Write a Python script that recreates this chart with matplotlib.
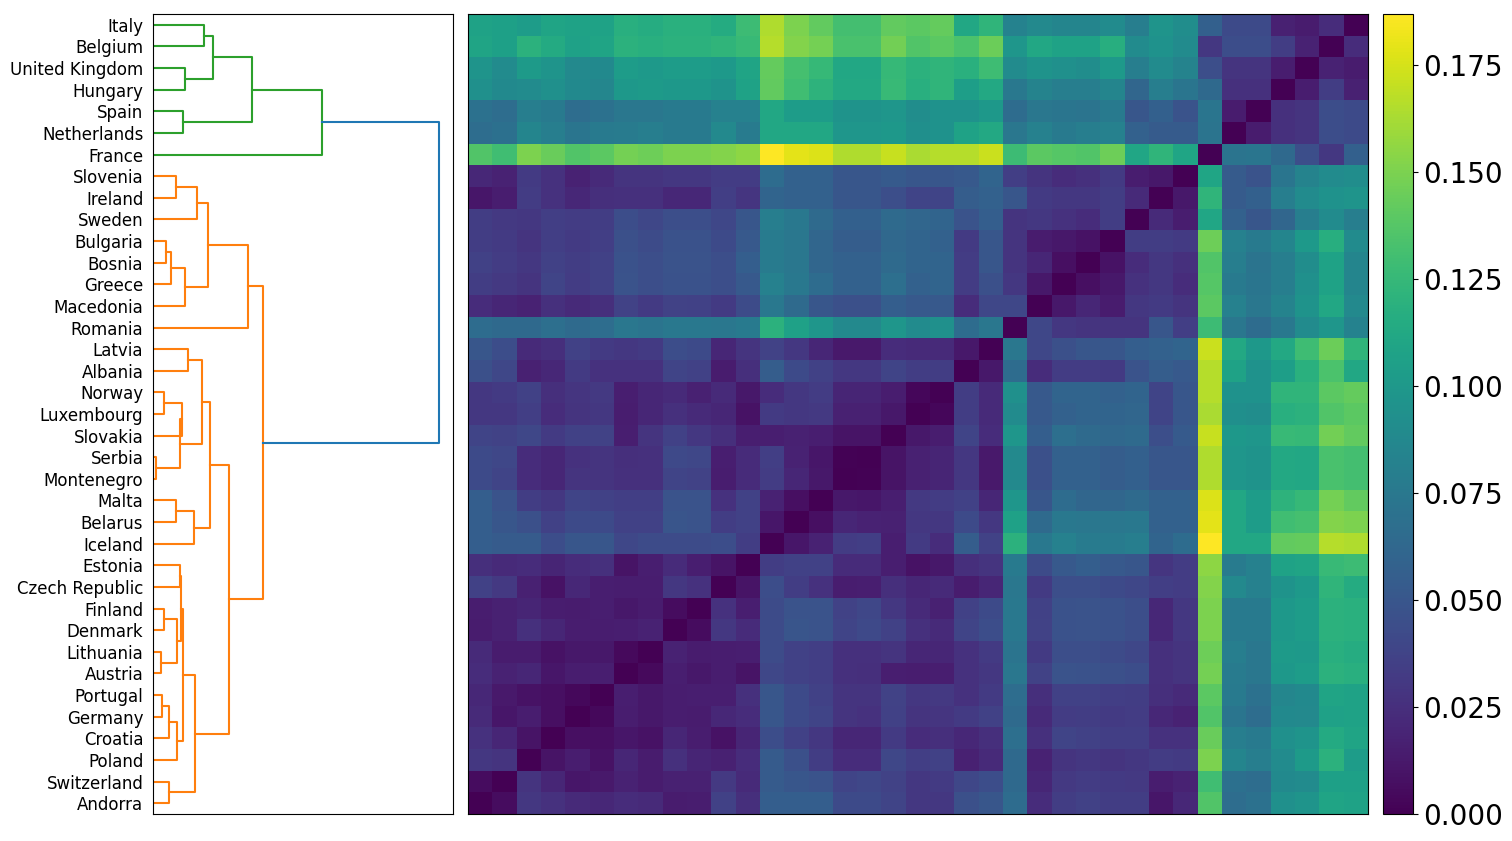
import numpy as np
import matplotlib
matplotlib.use("Agg")
import matplotlib.pyplot as plt

countries = ["Italy", "Belgium", "United Kingdom", "Hungary", "Spain", "Netherlands", "France",
             "Slovenia", "Ireland", "Sweden", "Bulgaria", "Bosnia", "Greece", "Macedonia", "Romania",
             "Latvia", "Albania", "Norway", "Luxembourg", "Slovakia", "Serbia", "Montenegro",
             "Malta", "Belarus", "Iceland", "Estonia", "Czech Republic", "Finland", "Denmark",
             "Lithuania", "Austria", "Portugal", "Germany", "Croatia", "Poland", "Switzerland", "Andorra"]

# distances x1000, each row from Andorra (left column) up to the diagonal
dist_rows = [
    [108, 106, 103, 109, 108, 108, 118, 116, 119, 119, 115, 128, 165, 150, 142, 131, 131, 142, 140, 143, 112, 122, 83, 88, 85, 85, 90, 80, 97, 92, 57, 42, 42, 17, 14, 24],
    [109, 106, 120, 114, 107, 109, 120, 118, 120, 120, 122, 126, 166, 152, 148, 133, 133, 147, 136, 140, 134, 145, 98, 112, 108, 108, 117, 90, 95, 90, 30, 44, 44, 34, 18],
    [97, 90, 102, 97, 88, 89, 103, 101, 103, 103, 101, 109, 143, 132, 125, 112, 112, 125, 120, 122, 119, 129, 90, 96, 94, 92, 101, 80, 90, 84, 45, 28, 28, 15],
    [94, 89, 90, 94, 89, 86, 100, 102, 100, 100, 96, 108, 142, 130, 121, 113, 113, 126, 118, 122, 105, 113, 75, 84, 80, 80, 85, 62, 80, 73, 64, 26, 26],
    [70, 67, 80, 76, 67, 70, 74, 74, 76, 76, 82, 82, 112, 103, 103, 96, 96, 98, 92, 95, 95, 100, 66, 74, 73, 72, 77, 50, 57, 48, 73, 14],
    [67, 69, 85, 80, 73, 77, 78, 80, 76, 76, 88, 78, 112, 112, 112, 98, 98, 100, 93, 95, 108, 113, 74, 82, 76, 80, 82, 58, 54, 54, 72],
    [136, 130, 150, 144, 136, 140, 148, 146, 150, 150, 152, 155, 187, 179, 177, 165, 165, 171, 163, 166, 166, 172, 128, 140, 138, 136, 146, 111, 122, 110],
    [21, 18, 32, 27, 18, 22, 28, 28, 30, 30, 33, 33, 66, 58, 58, 50, 50, 53, 50, 50, 52, 60, 35, 28, 24, 26, 32, 15, 12],
    [11, 15, 33, 27, 21, 25, 26, 26, 21, 21, 35, 29, 60, 58, 58, 50, 50, 45, 38, 38, 55, 58, 50, 32, 30, 30, 34, 22],
    [34, 31, 30, 35, 33, 34, 44, 40, 45, 45, 40, 50, 80, 75, 65, 57, 57, 65, 62, 60, 48, 56, 28, 30, 27, 24, 34],
    [34, 32, 28, 35, 32, 35, 46, 43, 47, 47, 42, 52, 78, 74, 62, 55, 55, 63, 60, 58, 32, 50, 28, 14, 12, 9],
    [36, 33, 30, 36, 34, 36, 47, 45, 48, 48, 45, 56, 78, 74, 62, 58, 58, 65, 60, 60, 33, 50, 28, 20, 8],
    [34, 31, 28, 38, 33, 36, 48, 45, 47, 47, 45, 52, 82, 75, 66, 58, 58, 68, 58, 60, 33, 46, 30, 12],
    [24, 20, 18, 26, 22, 25, 37, 32, 37, 36, 32, 43, 75, 65, 50, 46, 46, 56, 52, 52, 24, 40, 40],
    [66, 64, 64, 68, 65, 67, 74, 72, 75, 75, 74, 76, 120, 107, 98, 88, 88, 98, 90, 94, 66, 74],
    [50, 44, 22, 25, 36, 32, 30, 32, 44, 42, 20, 28, 37, 30, 20, 13, 13, 24, 22, 22, 12],
    [46, 40, 17, 21, 32, 27, 27, 27, 38, 36, 14, 25, 55, 42, 36, 30, 30, 38, 34, 34],
    [30, 32, 36, 25, 29, 31, 16, 20, 22, 17, 22, 12, 24, 30, 33, 19, 19, 15, 3],
    [30, 30, 35, 24, 28, 30, 15, 20, 26, 22, 20, 9, 32, 30, 31, 17, 17, 12],
    [38, 37, 40, 32, 36, 37, 16, 28, 36, 30, 25, 16, 16, 17, 16, 10, 10],
    [42, 40, 24, 20, 27, 28, 25, 26, 41, 40, 16, 23, 35, 18, 11, 1],
    [42, 38, 24, 20, 28, 28, 26, 26, 38, 37, 15, 23, 33, 20, 12],
    [56, 48, 34, 30, 38, 36, 35, 35, 48, 48, 27, 36, 18, 8],
    [56, 50, 46, 36, 42, 42, 36, 36, 49, 48, 34, 36, 11],
    [56, 54, 54, 44, 50, 50, 40, 43, 43, 43, 44, 34],
    [25, 22, 24, 19, 24, 26, 10, 16, 23, 16, 10],
    [36, 31, 17, 9, 21, 16, 15, 15, 30, 27],
    [15, 17, 19, 15, 14, 16, 12, 14, 6],
    [14, 17, 26, 20, 15, 15, 16, 18],
    [22, 14, 14, 9, 12, 12, 5],
    [24, 18, 20, 11, 15, 16],
    [21, 13, 9, 8, 4],
    [22, 11, 15, 8],
    [27, 20, 10],
    [30, 28],
    [6],
]

# merges: left, right, height. names are leaves, numbers point at an earlier merge
merges_green = [
    ("Italy", "Belgium", 51), ("United Kingdom", "Hungary", 32), (0, 1, 60),
    ("Spain", "Netherlands", 30), (2, 3, 99), (4, "France", 169),
]
merges_orange = [
    ("Slovenia", "Ireland", 23), (0, "Sweden", 44),
    ("Bulgaria", "Bosnia", 13), (2, "Greece", 18), (3, "Macedonia", 32),
    (1, 4, 55), (5, "Romania", 95),
    ("Latvia", "Albania", 35), ("Norway", "Luxembourg", 11), (8, "Slovakia", 29),
    ("Serbia", "Montenegro", 3), (9, 10, 27), (7, 11, 49),
    ("Malta", "Belarus", 23), (13, "Iceland", 41), (12, 14, 57),
    ("Estonia", "Czech Republic", 27), ("Finland", "Denmark", 11), ("Lithuania", "Austria", 8),
    (17, 18, 24), (16, 19, 28),
    ("Portugal", "Germany", 9), (21, "Croatia", 16), (22, "Poland", 24), (20, 23, 30),
    ("Switzerland", "Andorra", 16), (24, 25, 42),
    (15, 26, 76), (6, 27, 110),
]
root_height = 286
axis_width = 300


def draw_merges(ax, merges, color):
    done = []
    for left, right, h in merges:
        pts = []
        for child in (left, right):
            if isinstance(child, str):
                pts.append((0, 365 - 10 * countries.index(child)))
            else:
                pts.append(done[child])
        (x0, y0), (x1, y1) = pts
        ax.plot([x0, h, h, x1], [y0, y0, y1, y1], color=color, lw=1.5)
        done.append((h, (y0 + y1) / 2))
    return done[-1]


n = len(countries)
dist = np.zeros((n, n))
for i, row in enumerate(dist_rows):
    for j, val in enumerate(row):
        dist[i, n - 1 - j] = val / 1000
        dist[n - 1 - j, i] = val / 1000

W, H = 1512, 841
fig = plt.figure(figsize=(W / 100, H / 100), dpi=100)


def px_axes(x0, y0, x1, y1):
    return fig.add_axes([x0 / W, 1 - y1 / H, (x1 - x0) / W, (y1 - y0) / H])


ax_tree = px_axes(153, 14, 453, 814)
green_top = draw_merges(ax_tree, merges_green, "C2")
orange_top = draw_merges(ax_tree, merges_orange, "C1")
ax_tree.plot([green_top[0], root_height, root_height, orange_top[0]],
             [green_top[1], green_top[1], orange_top[1], orange_top[1]], color="C0", lw=1.5)
ax_tree.set_xlim(0, axis_width)
ax_tree.set_ylim(0, 10 * n)
ax_tree.set_xticks([])
ax_tree.set_yticks([365 - 10 * i for i in range(n)])
ax_tree.set_yticklabels(countries, fontsize=12)
ax_tree.tick_params(axis="y", length=0, pad=7)

ax_heat = px_axes(468, 14, 1368, 814)
# columns run the other way round from the rows
im = ax_heat.imshow(dist[:, ::-1], cmap="viridis", aspect="auto", vmin=0, vmax=0.187, interpolation="nearest")
ax_heat.set_xticks([])
ax_heat.set_yticks([])

ax_cbar = px_axes(1383, 14, 1413, 814)
cbar = fig.colorbar(im, cax=ax_cbar)
cbar.set_ticks([0, 0.025, 0.05, 0.075, 0.1, 0.125, 0.15, 0.175])
cbar.ax.set_yticklabels(["0.000", "0.025", "0.050", "0.075", "0.100", "0.125", "0.150", "0.175"])
cbar.ax.tick_params(labelsize=20)

fig.savefig("out.png", dpi=100)
